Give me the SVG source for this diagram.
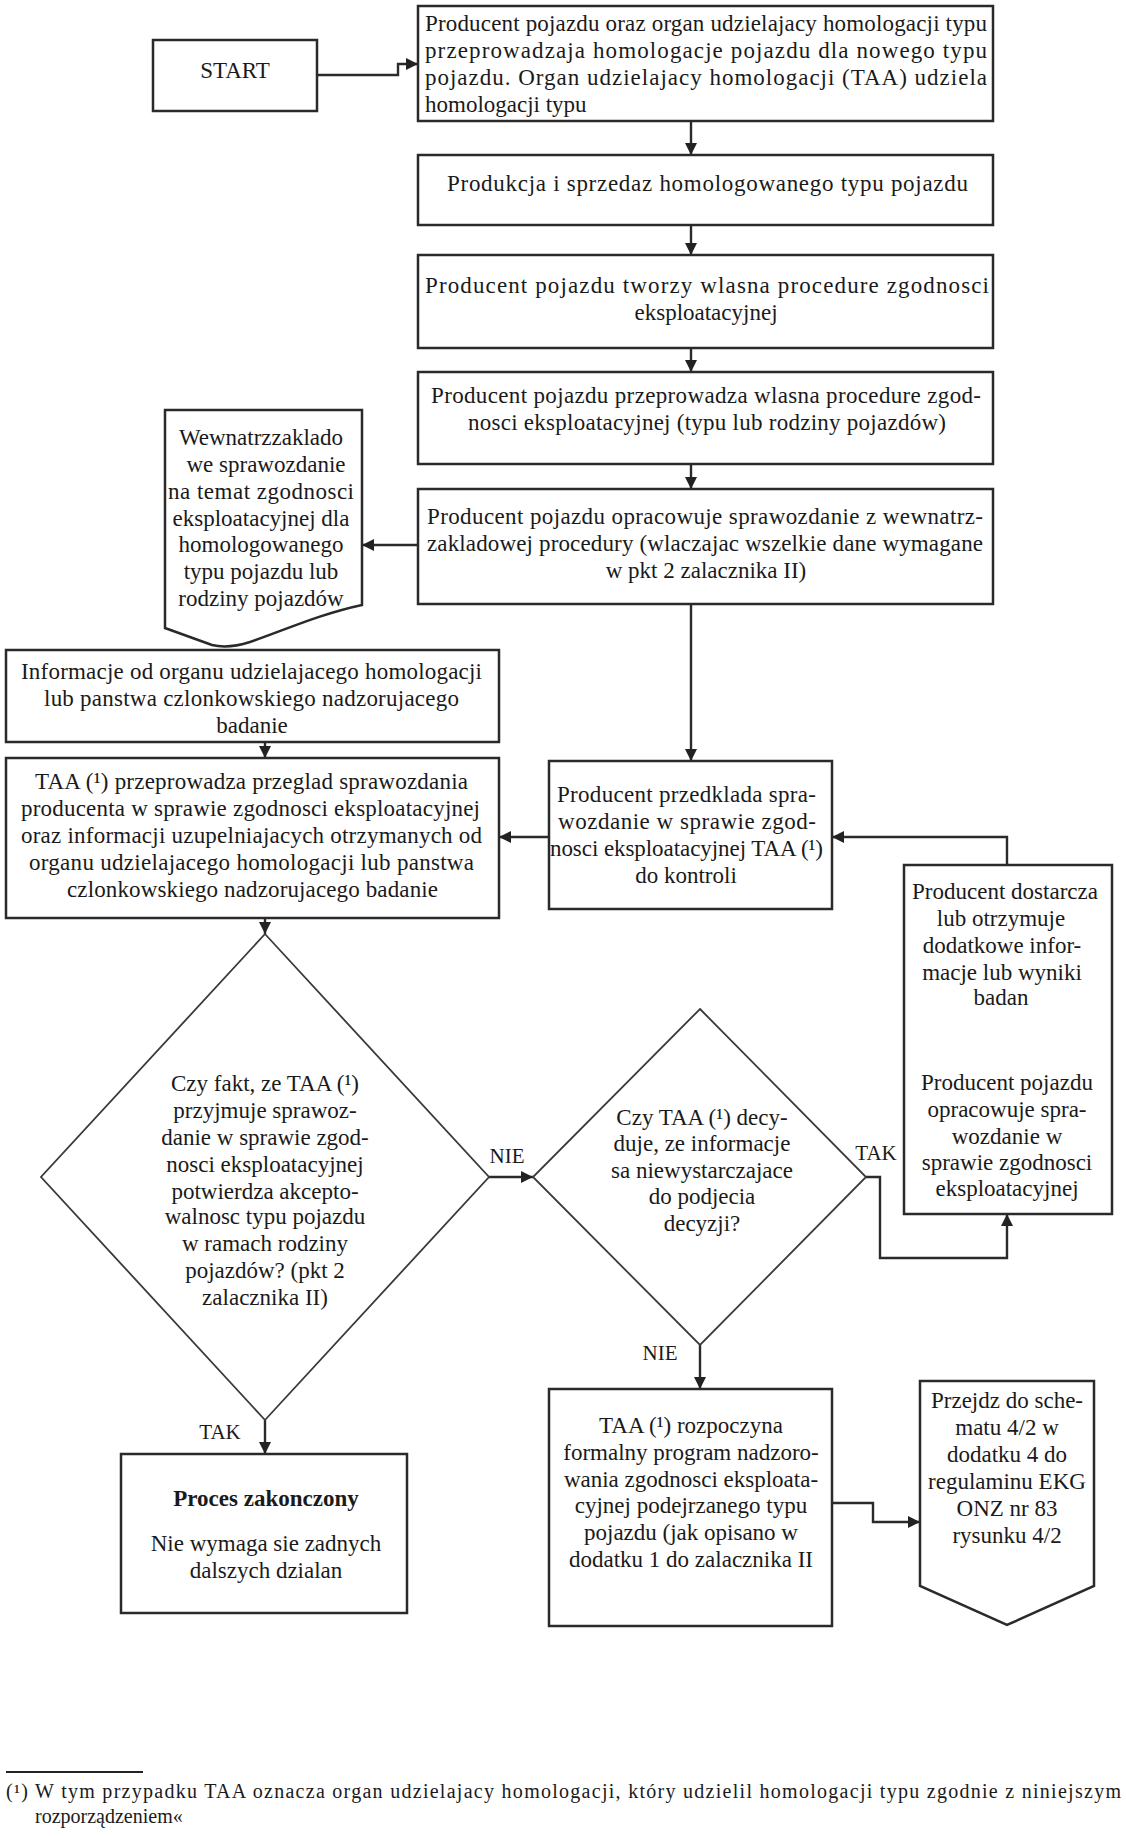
<svg xmlns="http://www.w3.org/2000/svg" width="1126" height="1836" viewBox="0 0 1126 1836">
<defs>
<marker id="arr" viewBox="0 0 10 10" refX="10" refY="5" markerWidth="12" markerHeight="12" markerUnits="userSpaceOnUse" orient="auto">
<path d="M0,0 L10,5 L0,10 Z" fill="#222"/>
</marker>
<style>
.box{fill:#fff;stroke:#2a2a2a;stroke-width:2.5}
.dia{fill:#fff;stroke:#3a3a3a;stroke-width:1.8}
.con{fill:none;stroke:#2a2a2a;stroke-width:2.4;marker-end:url(#arr)}
text{font-family:"Liberation Serif","DejaVu Serif",serif;font-size:23px;fill:#1a1a1a}
.c{text-anchor:middle}
.b{font-weight:bold}
.lb{font-size:21px}
.fn{font-size:20px}
</style>
</defs>
<rect width="1126" height="1836" fill="#fff"/>

<g id="connectors">
<path class="con" d="M317,75 H398 V64 H418"/>
<path class="con" d="M691,121 V155"/>
<path class="con" d="M691,225 V255"/>
<path class="con" d="M691,348 V372"/>
<path class="con" d="M691,464 V489"/>
<path class="con" d="M418,545 H362"/>
<path class="con" d="M691,604 V761"/>
<path class="con" d="M265,742 V758"/>
<path class="con" d="M549,837 H499"/>
<path class="con" d="M1007,865 V837 H832"/>
<path class="con" d="M265,918 V934"/>
<path class="con" d="M489,1177 H533"/>
<path class="con" d="M866,1177 H880 V1258 H1007 V1214"/>
<path class="con" d="M700,1345 V1389"/>
<path class="con" d="M265,1420 V1454"/>
<path class="con" d="M832,1503 H873 V1522 H920"/>
</g>

<g id="start">
<rect class="box" x="153" y="40" width="164" height="71"/>
<text class="c" x="235" y="78">START</text>
</g>

<g id="n1">
<rect class="box" x="418" y="6" width="575" height="115"/>
<text x="425" y="31" textLength="562" lengthAdjust="spacing">Producent pojazdu oraz organ udzielajacy homologacji typu</text>
<text x="425" y="58" textLength="562" lengthAdjust="spacing">przeprowadzaja homologacje pojazdu dla nowego typu</text>
<text x="425" y="85" textLength="562" lengthAdjust="spacing">pojazdu. Organ udzielajacy homologacji (TAA) udziela</text>
<text x="425" y="112">homologacji typu</text>
</g>

<g id="n2">
<rect class="box" x="418" y="155" width="575" height="70"/>
<text x="447" y="191" textLength="521" lengthAdjust="spacing">Produkcja i sprzedaz homologowanego typu pojazdu</text>
</g>

<g id="n3">
<rect class="box" x="418" y="255" width="575" height="93"/>
<text x="425" y="293" textLength="564" lengthAdjust="spacing">Producent pojazdu tworzy wlasna procedure zgodnosci</text>
<text class="c" x="706" y="320">eksploatacyjnej</text>
</g>

<g id="n4">
<rect class="box" x="418" y="372" width="575" height="92"/>
<text x="431" y="403" textLength="550" lengthAdjust="spacing">Producent pojazdu przeprowadza wlasna procedure zgod-</text>
<text x="468" y="430" textLength="478" lengthAdjust="spacing">nosci eksploatacyjnej (typu lub rodziny pojazdów)</text>
</g>

<g id="n5">
<rect class="box" x="418" y="489" width="575" height="115"/>
<text x="427" y="524" textLength="556" lengthAdjust="spacing">Producent pojazdu opracowuje sprawozdanie z wewnatrz-</text>
<text x="427" y="551" textLength="556" lengthAdjust="spacing">zakladowej procedury (wlaczajac wszelkie dane wymagane</text>
<text class="c" x="706" y="578">w pkt 2 zalacznika II)</text>
</g>

<g id="doc">
<path class="box" d="M165,410 H362 V605 C320,614 285,630 250,642 Q228,649 212,645 L165,628 Z"/>
<text class="c" x="261" y="445">Wewnatrzzaklado</text>
<text class="c" x="266" y="472">we sprawozdanie</text>
<text class="c" x="261" y="499" textLength="186" lengthAdjust="spacing">na temat zgodnosci</text>
<text class="c" x="261" y="526">eksploatacyjnej dla</text>
<text class="c" x="261" y="552">homologowanego</text>
<text class="c" x="261" y="579">typu pojazdu lub</text>
<text class="c" x="261" y="606">rodziny pojazdów</text>
</g>

<g id="info">
<rect class="box" x="6" y="650" width="493" height="92"/>
<text x="21" y="679" textLength="461" lengthAdjust="spacing">Informacje od organu udzielajacego homologacji</text>
<text x="44" y="706" textLength="415" lengthAdjust="spacing">lub panstwa czlonkowskiego nadzorujacego</text>
<text class="c" x="252" y="733">badanie</text>
</g>

<g id="review">
<rect class="box" x="6" y="758" width="493" height="160"/>
<text x="35" y="789" textLength="433" lengthAdjust="spacing">TAA (¹) przeprowadza przeglad sprawozdania</text>
<text x="21" y="816" textLength="459" lengthAdjust="spacing">producenta w sprawie zgodnosci eksploatacyjnej</text>
<text x="21" y="843" textLength="461" lengthAdjust="spacing">oraz informacji uzupelniajacych otrzymanych od</text>
<text x="29" y="870" textLength="445" lengthAdjust="spacing">organu udzielajacego homologacji lub panstwa</text>
<text x="67" y="897" textLength="371" lengthAdjust="spacing">czlonkowskiego nadzorujacego badanie</text>
</g>

<g id="submit">
<rect class="box" x="549" y="761" width="283" height="148"/>
<text x="557" y="802" textLength="259" lengthAdjust="spacing">Producent przedklada spra-</text>
<text x="558" y="829" textLength="258" lengthAdjust="spacing">wozdanie w sprawie zgod-</text>
<text x="550" y="856" textLength="273" lengthAdjust="spacing">nosci eksploatacyjnej TAA (¹)</text>
<text class="c" x="686" y="883">do kontroli</text>
</g>

<g id="extra">
<rect class="box" x="904" y="865" width="208" height="349"/>
<text class="c" x="1005" y="899">Producent dostarcza</text>
<text class="c" x="1001" y="926">lub otrzymuje</text>
<text class="c" x="1002" y="953">dodatkowe infor-</text>
<text class="c" x="1002" y="980">macje lub wyniki</text>
<text class="c" x="1001" y="1005">badan</text>
<text class="c" x="1007" y="1090">Producent pojazdu</text>
<text class="c" x="1007" y="1117">opracowuje spra-</text>
<text class="c" x="1007" y="1144">wozdanie w</text>
<text class="c" x="1007" y="1170">sprawie zgodnosci</text>
<text class="c" x="1007" y="1196">eksploatacyjnej</text>
</g>

<g id="decision1">
<path class="dia" d="M265,934 L489,1177 L265,1420 L41,1177 Z"/>
<text class="c" x="265" y="1091">Czy fakt, ze TAA (¹)</text>
<text class="c" x="265" y="1118">przyjmuje sprawoz-</text>
<text class="c" x="265" y="1145">danie w sprawie zgod-</text>
<text class="c" x="265" y="1172">nosci eksploatacyjnej</text>
<text class="c" x="265" y="1199">potwierdza akcepto-</text>
<text class="c" x="265" y="1224">walnosc typu pojazdu</text>
<text class="c" x="265" y="1251">w ramach rodziny</text>
<text class="c" x="265" y="1278">pojazdów? (pkt 2</text>
<text class="c" x="265" y="1305">zalacznika II)</text>
</g>

<g id="decision2">
<path class="dia" d="M700,1009 L866,1177 L700,1345 L533,1177 Z"/>
<text class="c" x="702" y="1125">Czy TAA (¹) decy-</text>
<text class="c" x="702" y="1151">duje, ze informacje</text>
<text class="c" x="702" y="1178">sa niewystarczajace</text>
<text class="c" x="702" y="1204">do podjecia</text>
<text class="c" x="702" y="1231">decyzji?</text>
</g>

<g id="labels">
<text class="c lb" x="507" y="1163">NIE</text>
<text class="c lb" x="876" y="1160">TAK</text>
<text class="c lb" x="660" y="1360">NIE</text>
<text class="c lb" x="220" y="1439">TAK</text>
</g>

<g id="program">
<rect class="box" x="549" y="1389" width="283" height="237"/>
<text class="c" x="691" y="1433">TAA (¹) rozpoczyna</text>
<text class="c" x="691" y="1460">formalny program nadzoro-</text>
<text class="c" x="691" y="1487">wania zgodnosci eksploata-</text>
<text class="c" x="691" y="1513">cyjnej podejrzanego typu</text>
<text class="c" x="691" y="1540">pojazdu (jak opisano w</text>
<text class="c" x="691" y="1567">dodatku 1 do zalacznika II</text>
</g>

<g id="goto">
<path class="box" d="M920,1381 H1094 V1586 L1007,1625 L920,1586 Z"/>
<text class="c" x="1007" y="1408">Przejdz do sche-</text>
<text class="c" x="1007" y="1435">matu 4/2 w</text>
<text class="c" x="1007" y="1462">dodatku 4 do</text>
<text class="c" x="1007" y="1489">regulaminu EKG</text>
<text class="c" x="1007" y="1516">ONZ nr 83</text>
<text class="c" x="1007" y="1543">rysunku 4/2</text>
</g>

<g id="end">
<rect class="box" x="121" y="1454" width="286" height="159"/>
<text class="c b" x="266" y="1506">Proces zakonczony</text>
<text class="c" x="266" y="1551">Nie wymaga sie zadnych</text>
<text class="c" x="266" y="1578">dalszych dzialan</text>
</g>

<g id="footnote">
<line x1="6" y1="1772" x2="143" y2="1772" stroke="#222" stroke-width="2"/>
<text class="fn" x="6" y="1798" textLength="1115" lengthAdjust="spacing">(¹) W tym przypadku TAA oznacza organ udzielajacy homologacji, który udzielil homologacji typu zgodnie z niniejszym</text>
<text class="fn" x="35" y="1823">rozporządzeniem«</text>
</g>
</svg>
